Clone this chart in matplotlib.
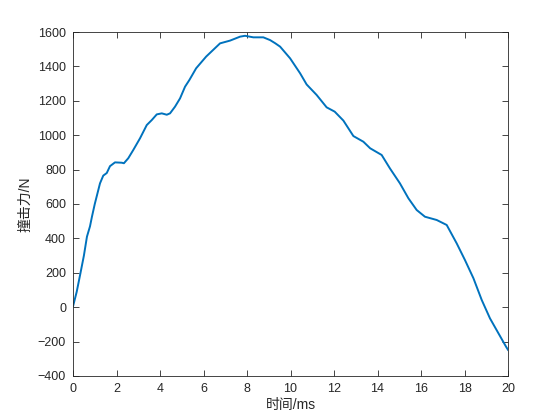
import numpy as np
import matplotlib.pyplot as plt

# impact force curve
t_ms = [0.0, 0.17, 0.34, 0.50, 0.64, 0.78, 0.87, 1.00, 1.10, 1.24, 1.39, 1.55,
        1.70, 1.93, 2.24, 2.34, 2.54, 2.77, 3.08, 3.39, 3.62, 3.85, 4.08, 4.31,
        4.46, 4.69, 4.92, 5.15, 5.35, 5.66, 6.12, 6.76, 7.22, 7.68, 7.91, 8.29,
        8.75, 9.06, 9.29, 9.52, 9.98, 10.44, 10.74, 11.20, 11.66, 12.03, 12.43,
        12.89, 13.35, 13.66, 14.19, 14.57, 15.03, 15.42, 15.80, 16.18, 16.72,
        17.18, 17.64, 18.02, 18.41, 18.79, 19.17, 19.56, 19.91, 20.0]
force = [5, 90, 197, 300, 410, 470, 526, 600, 650, 720, 765, 780,
         820, 842, 840, 837, 866, 914, 982, 1059, 1088, 1121, 1127, 1119,
         1127, 1166, 1214, 1282, 1321, 1389, 1457, 1534, 1550, 1573, 1578, 1569,
         1569, 1553, 1535, 1515, 1447, 1360, 1295, 1234, 1162, 1137, 1085,
         995, 962, 924, 885, 807, 720, 633, 565, 526, 507,
         478, 371, 274, 168, 42, -65, -152, -230, -248]

xticks = np.arange(0, 21, 2)
yticks = np.arange(-400, 1601, 200)

plt.rcParams['font.family'] = ['Liberation Sans', 'Noto Sans CJK SC']

fig = plt.figure(figsize=(5.6, 4.2), dpi=100)
ax = fig.add_axes([0.1304, 0.1048, 0.7768, 0.819])

ax.plot(t_ms, force, color=(0, 0.447, 0.741), linewidth=1.4)

ax.set_xlim(0, 20)
ax.set_ylim(-400, 1600)
ax.set_xticks(xticks)
ax.set_yticks(yticks)

ax.tick_params(direction='in', top=True, right=True, length=4, width=0.6,
               labelsize=9, colors=(0.15, 0.15, 0.15), pad=5)
for s in ax.spines.values():
    s.set_linewidth(0.6)
    s.set_color((0.15, 0.15, 0.15))

ax.set_xlabel('时间/ms', fontsize=10, color=(0.15, 0.15, 0.15), labelpad=2)
ax.set_ylabel('撞击力/N', fontsize=10, color=(0.15, 0.15, 0.15), labelpad=4)

fig.savefig('out.png', dpi=100)
plt.close(fig)
